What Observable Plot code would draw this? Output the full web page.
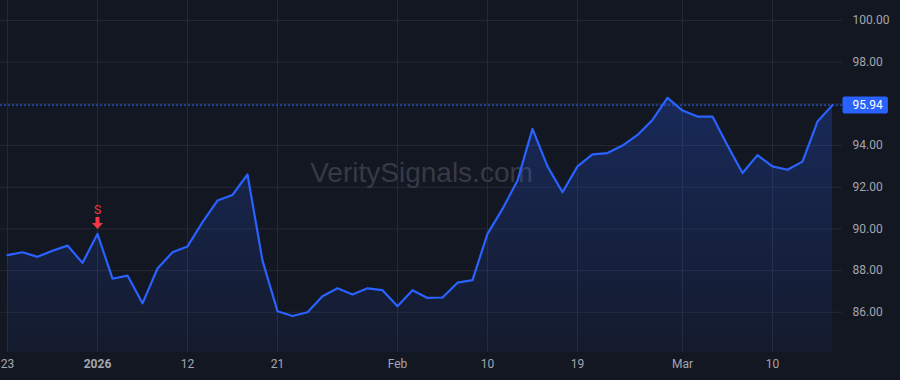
<!DOCTYPE html>
<html><head><meta charset="utf-8">
<script src="https://cdn.jsdelivr.net/npm/d3@7"></script>
<script src="https://cdn.jsdelivr.net/npm/@observablehq/plot@0.6"></script>
<style>
html,body{margin:0;padding:0;background:#131722;}
#chart{width:900px;height:380px;}
</style></head><body><div id="chart"></div>
<script>
// Trading days (x is the trading-day index)
const dates = ["2025-12-23","2025-12-24","2025-12-26","2025-12-29","2025-12-30","2025-12-31",
  "2026-01-02","2026-01-05","2026-01-06","2026-01-07","2026-01-08","2026-01-09",
  "2026-01-12","2026-01-13","2026-01-14","2026-01-15","2026-01-16","2026-01-20",
  "2026-01-21","2026-01-22","2026-01-23","2026-01-26","2026-01-27","2026-01-28","2026-01-29","2026-01-30",
  "2026-02-02","2026-02-03","2026-02-04","2026-02-05","2026-02-06","2026-02-09",
  "2026-02-10","2026-02-11","2026-02-12","2026-02-13","2026-02-17","2026-02-18",
  "2026-02-19","2026-02-20","2026-02-23","2026-02-24","2026-02-25","2026-02-26","2026-02-27",
  "2026-03-02","2026-03-03","2026-03-04","2026-03-05","2026-03-06","2026-03-09",
  "2026-03-10","2026-03-11","2026-03-12","2026-03-13","2026-03-16"];
const values = [88.74,88.88,88.66,88.95,89.20,88.37,
  89.76,87.61,87.76,86.43,88.10,88.88,
  89.16,90.32,91.36,91.63,92.61,88.48,
  86.05,85.82,86.00,86.77,87.15,86.85,87.15,87.06,
  86.29,87.06,86.69,86.71,87.42,87.54,
  89.76,90.96,92.32,94.80,93.00,91.76,
  93.00,93.58,93.64,94.00,94.51,95.23,96.29,
  95.68,95.39,95.39,94.00,92.68,93.54,
  93.00,92.84,93.23,95.15,95.94];
const tickIndex = [0,6,12,18,26,32,38,45,51];
const tickLabels = ["23","2026","12","21","Feb","10","19","Mar","10"];
const boldLabels = ["2026"];
const yTicks = [86,88,90,92,94,98,100];
const yGrid = [86,88,90,92,94,96,98,100];
const signalIndex = [6];
const signalText = ["S"];
const watermark = "VeritySignals.com";

const data = values.map((v,i)=>({i, date: dates[i], v}));
const last = data[data.length-1];
const sig = signalIndex.map((k,j)=>({i:k, v: values[k], t: signalText[j]}));
const ticks = tickIndex.map((k,j)=>({i:k, label: tickLabels[j]}));
const yDomain = [84.07, 100.96];
const n = values.length;

const arrowSymbol = { draw(ctx){
  ctx.moveTo(-2,-17); ctx.lineTo(2,-17); ctx.lineTo(2,-11); ctx.lineTo(5.5,-11);
  ctx.lineTo(0,-5); ctx.lineTo(-5.5,-11); ctx.lineTo(-2,-11); ctx.closePath(); } };

const gridColor = "#252935";
const textColor = "#a3a6af";
const blue = "#2962ff";

const chart = Plot.plot({
  width: 900, height: 380,
  marginTop: 0, marginBottom: 28, marginLeft: 0, marginRight: 58,
  style: {background: "#131722", fontFamily: "Roboto, sans-serif", fontSize: "12px", color: textColor, overflow: "visible"},
  x: {domain: [-7/15, (n-1) + 10/15], axis: null},
  y: {domain: yDomain, axis: null},
  marks: [
    Plot.ruleY(yGrid, {stroke: gridColor, strokeWidth: 1}),
    Plot.ruleX(tickIndex, {stroke: gridColor, strokeWidth: 1}),
    Plot.text([watermark], {frameAnchor: "middle", text: d=>d, dy: -3, fontSize: 28, fill: "#363a45", fontFamily: "Liberation Sans, Arial, sans-serif"}),
    Plot.areaY(data, {x: "i", y1: yDomain[0], y2: "v", fill: "url(#areaGrad)"}),
    Plot.ruleY([last.v], {stroke: blue, strokeWidth: 1, strokeDasharray: "2,2"}),
    Plot.lineY(data, {x: "i", y: "v", stroke: blue, strokeWidth: 2.2}),
    Plot.text(sig, {x: "i", y: "v", text: "t", dy: -24, fill: "#f23645", fontSize: 12}),
    Plot.dot(sig, {x: "i", y: "v", symbol: arrowSymbol, fill: "#f23645", stroke: "none", r: 5}),
    Plot.text(yTicks, {y: d=>d, text: d=>d.toFixed(2), frameAnchor: "right", dx: 10, textAnchor: "start", fill: textColor}),
    Plot.text(ticks.filter(t=>!boldLabels.includes(t.label)), {x: "i", text: "label", frameAnchor: "bottom", dy: 15, fill: textColor}),
    Plot.text(ticks.filter(t=>boldLabels.includes(t.label)), {x: "i", text: "label", frameAnchor: "bottom", dy: 15, fill: textColor, fontWeight: "bold"}),
    Plot.text([last], {y: "v", text: d=>d.v.toFixed(2), frameAnchor: "right", dx: 10, textAnchor: "start", fill: "#ffffff"})
  ]
});
document.getElementById("chart").appendChild(chart);

// gradient definition for the area
const svg = d3.select(chart);
const defs = svg.insert("defs", ":first-child");
const grad = defs.append("linearGradient").attr("id","areaGrad").attr("x1",0).attr("y1",0).attr("x2",0).attr("y2",1);
grad.append("stop").attr("offset","0%").attr("stop-color",blue).attr("stop-opacity",0.25);
grad.append("stop").attr("offset","100%").attr("stop-color",blue).attr("stop-opacity",0.05);

// price label background: find the white label text and put a rect behind it (same transform)
const labelText = last.v.toFixed(2);
svg.selectAll("text").each(function(){
  if (this.textContent !== labelText) return;
  const fillAttr = this.getAttribute("fill") || this.parentNode.getAttribute("fill");
  if (fillAttr !== "#ffffff" && fillAttr !== "white") return;
  const b = this.getBBox();
  const rect = document.createElementNS("http://www.w3.org/2000/svg", "rect");
  const tr = this.getAttribute("transform");
  if (tr) rect.setAttribute("transform", tr);
  rect.setAttribute("x", b.x - 10);
  rect.setAttribute("y", b.y + b.height/2 - 8.5);
  rect.setAttribute("width", b.width + 15);
  rect.setAttribute("height", 17);
  rect.setAttribute("rx", 2);
  rect.setAttribute("fill", blue);
  this.parentNode.insertBefore(rect, this);
});
</script></body></html>
